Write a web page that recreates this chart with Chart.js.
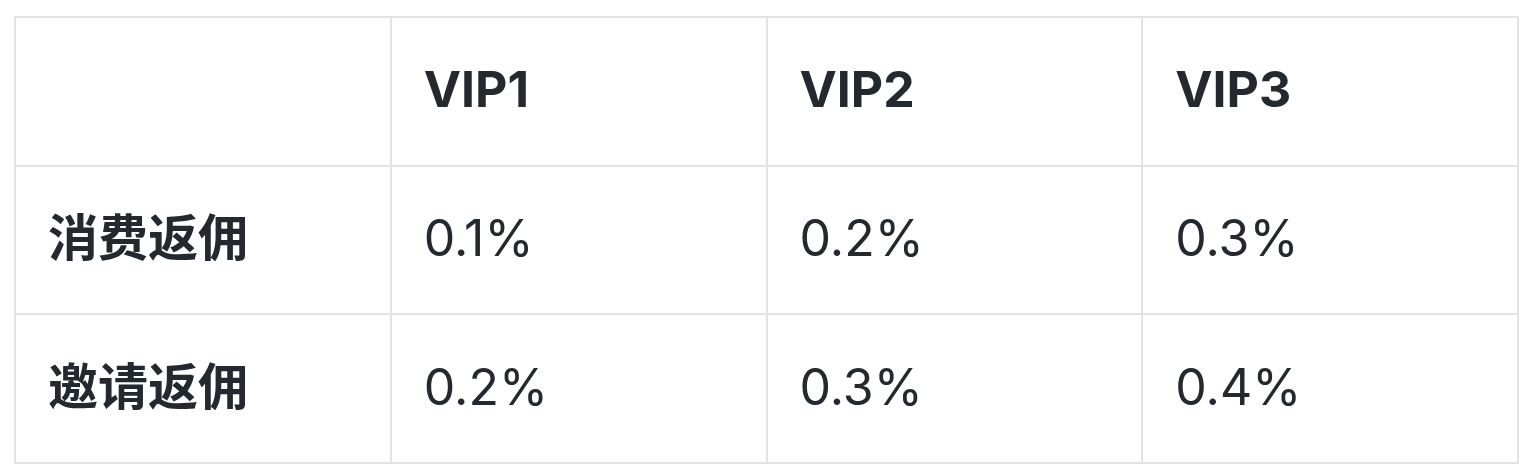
<!DOCTYPE html>
<html><head><meta charset="utf-8">
<script src="https://cdn.jsdelivr.net/npm/chart.js@4"></script>
<style>html,body{margin:0;padding:0;background:#fff;}</style>
</head><body>
<canvas id="c" width="1530" height="476"></canvas>
<script>
const columns = ['', 'VIP1', 'VIP2', 'VIP3'];
const rowLabels = ['消费返佣', '邀请返佣'];
const consumeRebate = ['0.1%', '0.2%', '0.3%'];
const inviteRebate = ['0.2%', '0.3%', '0.4%'];
const rows = [consumeRebate, inviteRebate];

const textColor = '#24292f';
const font = (w) => w + ' 50px Inter, "Noto Sans CJK SC", sans-serif';

const tablePlugin = {
  id: 'tableText',
  afterDraw(chart) {
    const ctx = chart.ctx, x = chart.scales.x, y = chart.scales.y;
    ctx.save();
    ctx.fillStyle = textColor;
    ctx.textBaseline = 'middle';
    ctx.textAlign = 'left';
    const pad = 33;
    const cell = (col, row, txt, bold) => {
      ctx.font = font(bold ? 'bold' : 'normal');
      const cx = x.getPixelForValue(col) + pad;
      const cy = (y.getPixelForValue(row) + y.getPixelForValue(row + 1)) / 2 + 1;
      ctx.fillText(txt, cx, cy);
    };
    columns.forEach((c, i) => { if (c) cell(i, 0, c, true); });
    rowLabels.forEach((r, j) => {
      cell(0, j + 1, r, true);
      rows[j].forEach((v, i) => cell(i + 1, j + 1, v, false));
    });
    ctx.restore();
  }
};

new Chart(document.getElementById('c'), {
  type: 'scatter',
  data: { datasets: [{ data: [] }] },
  options: {
    responsive: false, animation: false,
    layout: { padding: { left: 15, right: 12, top: 17, bottom: 13 } },
    plugins: { legend: { display: false }, tooltip: { enabled: false } },
    scales: {
      x: { type: 'linear', min: 0, max: 4, afterBuildTicks: s => { s.ticks = [0,1,2,3,4].map(v => ({ value: v })); },
           ticks: { display: false }, grid: { color: '#e3e3e6', lineWidth: 2, drawTicks: false },
           border: { display: true, color: '#e3e3e6', width: 2 } },
      y: { type: 'linear', min: 0, max: 3, reverse: true, afterBuildTicks: s => { s.ticks = [0,1,2,3].map(v => ({ value: v })); },
           ticks: { display: false }, grid: { color: '#e3e3e6', lineWidth: 2, drawTicks: false },
           border: { display: true, color: '#e3e3e6', width: 2 } }
    }
  },
  plugins: [tablePlugin]
});
</script>
</body></html>
